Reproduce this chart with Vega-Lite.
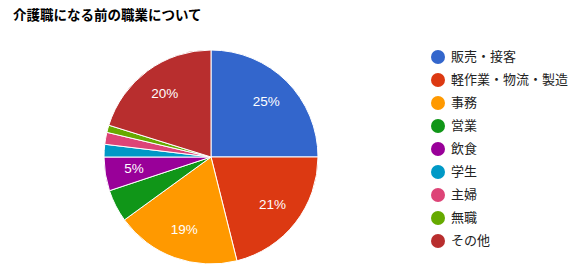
{
  "$schema": "https://vega.github.io/schema/vega-lite/v6.json",
  "autosize": "none",
  "padding": {"left": 104, "top": 50, "right": 264, "bottom": 16},
  "width": 214,
  "height": 214,
  "background": "white",
  "title": {
    "text": "介護職になる前の職業について",
    "anchor": "start",
    "frame": "group",
    "dx": -91,
    "offset": 26,
    "font": "Noto Sans CJK JP",
    "fontSize": 13.5,
    "fontWeight": "bold",
    "color": "#000000"
  },
  "data": {
    "values": [
      {"i": 1, "job": "販売・接客", "v": 0.250},
      {"i": 2, "job": "軽作業・物流・製造", "v": 0.211},
      {"i": 3, "job": "事務", "v": 0.189},
      {"i": 4, "job": "営業", "v": 0.049},
      {"i": 5, "job": "飲食", "v": 0.051},
      {"i": 6, "job": "学生", "v": 0.019},
      {"i": 7, "job": "主婦", "v": 0.018},
      {"i": 8, "job": "無職", "v": 0.011},
      {"i": 9, "job": "その他", "v": 0.202}
    ]
  },
  "encoding": {
    "theta": {"field": "v", "type": "quantitative", "stack": true},
    "order": {"field": "i", "type": "quantitative"}
  },
  "layer": [
    {
      "mark": {"type": "arc", "stroke": "white", "strokeWidth": 1},
      "encoding": {
        "color": {
          "field": "job",
          "type": "nominal",
          "sort": ["販売・接客", "軽作業・物流・製造", "事務", "営業", "飲食", "学生", "主婦", "無職", "その他"],
          "scale": {
            "domain": ["販売・接客", "軽作業・物流・製造", "事務", "営業", "飲食", "学生", "主婦", "無職", "その他"],
            "range": ["#3366cc", "#dc3912", "#ff9900", "#109618", "#990099", "#0099c6", "#dd4477", "#66aa00", "#b82e2e"]
          },
          "legend": {
            "title": null,
            "orient": "none",
            "legendX": 327,
            "legendY": 0,
            "symbolType": "circle",
            "symbolSize": 196,
            "symbolStrokeWidth": 0,
            "labelFont": "Noto Sans CJK JP",
            "labelFontSize": 13,
            "labelColor": "#222222",
            "labelOffset": 6,
            "rowPadding": 9,
            "padding": 0
          }
        }
      }
    },
    {
      "mark": {"type": "text", "radius": 78, "font": "Liberation Sans", "fontSize": 13.5, "fill": "white"},
      "encoding": {
        "text": {
          "condition": {"test": "datum.v >= 0.05", "field": "v", "type": "quantitative", "format": ".0%"},
          "value": ""
        }
      }
    }
  ],
  "config": {"view": {"stroke": null}}
}
